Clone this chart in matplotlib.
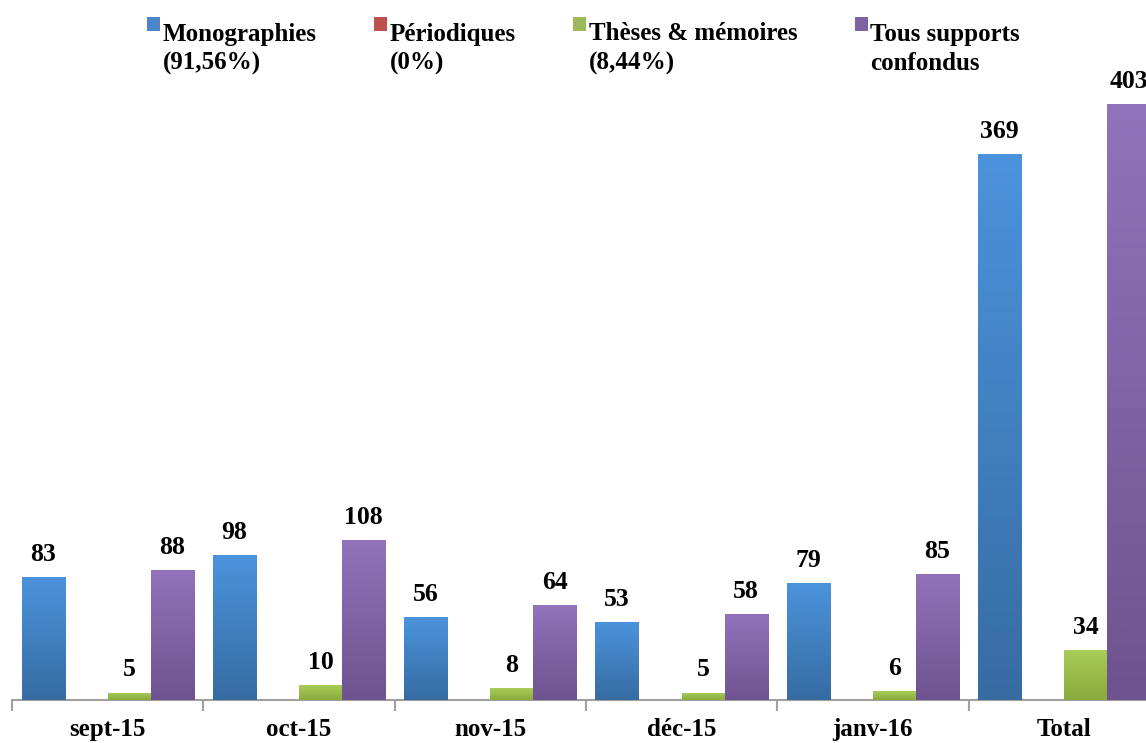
import numpy as np
import matplotlib
matplotlib.use("Agg")
import matplotlib.pyplot as plt
from matplotlib.patches import Patch, Rectangle
from matplotlib.legend_handler import HandlerPatch
from matplotlib.colors import LinearSegmentedColormap

categories = ["sept-15", "oct-15", "nov-15", "déc-15", "janv-16", "Total"]
series_names = ["Monographies\n(91,56%)", "Périodiques\n(0%)",
                "Thèses & mémoires\n(8,44%)", "Tous supports\nconfondus"]
monographies = [83, 98, 56, 53, 79, 369]
periodiques = [0, 0, 0, 0, 0, 0]
theses = [5, 10, 8, 5, 6, 34]
tous = [88, 108, 64, 58, 85, 403]
series_values = [monographies, periodiques, theses, tous]

top_colors = ["#4b93dc", "#c8534f", "#a8cd58", "#9272ba"]
bot_colors = ["#376ca3", "#a03e3b", "#8aaa3c", "#6f5390"]
base_colors = ["#4a86c8", "#c0504d", "#9bbb59", "#8064a2"]

plt.rcParams['font.family'] = ['Liberation Serif', 'DejaVu Serif']
fig = plt.figure(figsize=(11.46, 7.43), dpi=100)
W, H = 1146, 743
left_px, base_px = 12, 700
group_px = 191.3
ax = fig.add_axes([left_px / W, (H - base_px) / H, 1 - left_px / W, base_px / H])
ppu = 1.479  # pixels per unit
XLIM = (-0.5, -0.5 + (W - left_px) / group_px)
YLIM = (0, base_px / ppu)

bw = 0.225
x = np.arange(len(categories))
for k, vals in enumerate(series_values):
    pos = x - 0.5 + 0.05 + bw * (k + 0.5)
    bars = ax.bar(pos, vals, width=bw, color=base_colors[k], linewidth=0, zorder=2)
    cmap = LinearSegmentedColormap.from_list("g%d" % k, [bot_colors[k], top_colors[k]])
    grad = np.linspace(0, 1, 64).reshape(-1, 1)
    for b, v in zip(bars, vals):
        if v <= 0:
            continue
        x0, y0 = b.get_x(), b.get_y()
        im = ax.imshow(grad, cmap=cmap, origin="lower", aspect="auto",
                       extent=(x0, x0 + b.get_width(), y0, y0 + b.get_height()),
                       zorder=3, interpolation="bicubic")
        im.set_clip_path(b)
        ax.annotate(str(v), (x0 + b.get_width() / 2, v), xytext=(0, 8),
                    textcoords="offset points", ha="center", va="bottom",
                    fontsize=18.5, fontweight="bold", color="black", zorder=4)

for s in ["top", "right", "left"]:
    ax.spines[s].set_visible(False)
ax.spines["bottom"].set_color("#a0a0a0")
ax.spines["bottom"].set_linewidth(1.5)
ax.set_yticks([])
ax.set_xticks(x)
ax.set_xticklabels(categories, fontsize=18, fontweight="bold")
ax.tick_params(axis="x", which="major", length=0, pad=13)
ax.set_xticks(np.arange(-0.5, len(categories) + 0.5, 1.0), minor=True)
ax.tick_params(axis="x", which="minor", length=8, width=1.5, color="#a0a0a0", direction="out")
ax.set_xlim(*XLIM)
ax.set_ylim(*YLIM)


def make_patch(legend, orig_handle, xdescent, ydescent, width, height, fontsize):
    return Rectangle((-xdescent, -ydescent + fontsize * 1.0), width, height)


handles = [Patch(facecolor=c, edgecolor="none") for c in base_colors]
leg = fig.legend(handles, series_names, loc="upper center", bbox_to_anchor=(0.509, 1.0),
                 ncol=4, frameon=False, prop={"size": 18, "weight": "bold"},
                 handlelength=0.52, handleheight=0.44, handletextpad=0.1,
                 columnspacing=2.3,
                 handler_map={Patch: HandlerPatch(patch_func=make_patch)})
for t in leg.get_texts():
    t.set_linespacing(1.35)

fig.savefig("out.png", dpi=100)
